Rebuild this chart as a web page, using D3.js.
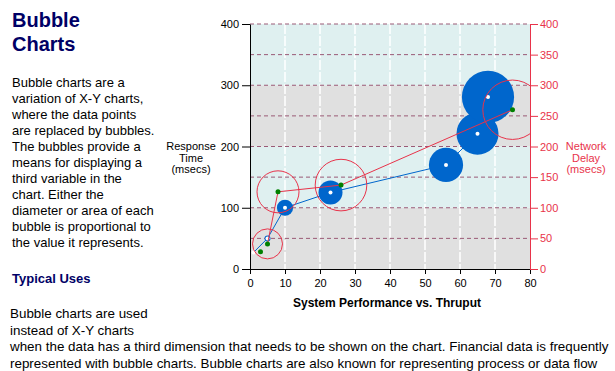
<html>
<head>
<script src="https://cdn.jsdelivr.net/npm/d3@7"></script>
<style>
  body { margin: 0; background: #fff; }
  text { font-family: "Liberation Sans", Arial, sans-serif; }
</style>
</head>
<body>
<script>
var w = 615;
var h = 371;

// chart values
var xTicks = [0, 10, 20, 30, 40, 50, 60, 70, 80];
var leftTicks = [0, 100, 200, 300, 400];
var rightTicks = [0, 50, 100, 150, 200, 250, 300, 350, 400];
var bands = [0, 100, 200, 300];

var blueX = [1, 5, 10, 23, 56, 65, 68];
var blueY = [27, 50, 100, 125, 170, 221, 281];
var blueSize = [0, 10, 27, 40, 57, 70, 87];

var redX = [3, 5, 8, 26, 75];
var redY = [28, 41, 126, 137, 260];
var redSize = [0, 50, 70, 86, 99];

var introLines = ["Bubble charts are a", "variation of X-Y charts,", "where the data points",
  "are replaced by bubbles.", "The bubbles provide a", "means for displaying a",
  "third variable in the", "chart. Either the", "diameter or area of each",
  "bubble is proportional to", "the value it represents."];
var usesLines = ["Bubble charts are used", "instead of X-Y charts",
  "when the data has a third dimension that needs to be shown on the chart. Financial data is frequently",
  "represented with bubble charts. Bubble charts are also known for representing process or data flow"];

var svg = d3.select("body").append("svg")
  .attr("width", w)
  .attr("height", h);

// left column text
svg.append("text").attr("x", 12).attr("y", 27).attr("fill", "#000066")
  .style("font-size", "20px").style("font-weight", "bold").text("Bubble");
svg.append("text").attr("x", 12).attr("y", 51).attr("fill", "#000066")
  .style("font-size", "20px").style("font-weight", "bold").text("Charts");

svg.selectAll(".intro").data(introLines).enter().append("text")
  .attr("class", "intro")
  .attr("x", 12)
  .attr("y", function(d, i) { return 87 + i * 16; })
  .style("font-size", "13px")
  .text(function(d) { return d; });

svg.append("text").attr("x", 12).attr("y", 283).attr("fill", "#000066")
  .style("font-size", "13px").style("font-weight", "bold").text("Typical Uses");

svg.selectAll(".uses").data(usesLines).enter().append("text")
  .attr("class", "uses")
  .attr("x", 10)
  .attr("y", function(d, i) { return 318 + i * 16.5; })
  .style("font-size", "13.4px")
  .text(function(d) { return d; });

// chart
var x = d3.scaleLinear().domain([0, 80]).range([250, 530]);
var y = d3.scaleLinear().domain([0, 400]).range([269, 24]);
var y2 = d3.scaleLinear().domain([0, 400]).range([269, 24]);
var r = d3.scaleLinear().domain([0, 100]).range([0, 30]);

svg.append("clipPath").attr("id", "plotclip").append("rect")
  .attr("x", 250).attr("y", 24).attr("width", 280).attr("height", 245);

svg.selectAll(".band").data(bands).enter().append("rect")
  .attr("x", x(0))
  .attr("y", function(d) { return y(d + 100); })
  .attr("width", x(80) - x(0))
  .attr("height", function(d) { return y(d) - y(d + 100); })
  .attr("fill", function(d, i) { return i % 2 == 0 ? "#e0e0e0" : "#dff0f0"; });

svg.selectAll(".vgrid").data(xTicks.slice(1, -1)).enter().append("line")
  .attr("x1", function(d) { return x(d); })
  .attr("x2", function(d) { return x(d); })
  .attr("y1", y(400)).attr("y2", y(0))
  .attr("stroke", "#fff").attr("stroke-width", 1.5)
  .attr("stroke-dasharray", "10,2");

svg.selectAll(".hgrid").data(rightTicks.slice(1)).enter().append("line")
  .attr("x1", x(0)).attr("x2", x(80))
  .attr("y1", function(d) { return y2(d); })
  .attr("y2", function(d) { return y2(d); })
  .attr("stroke", "#9a5a76")
  .attr("stroke-dasharray", "4,3");

var blue = blueX.map(function(v, i) { return { x: v, y: blueY[i], s: blueSize[i] }; });
var red = redX.map(function(v, i) { return { x: v, y: redY[i], s: redSize[i] }; });

var plot = svg.append("g").attr("clip-path", "url(#plotclip)");

var blueLine = d3.line().x(function(d) { return x(d.x); }).y(function(d) { return y(d.y); });
plot.append("path").datum(blue).attr("d", blueLine)
  .attr("fill", "none").attr("stroke", "#0066cc").attr("stroke-width", 1);

plot.selectAll(".bubble").data(blue).enter().append("circle")
  .attr("cx", function(d) { return x(d.x); })
  .attr("cy", function(d) { return y(d.y); })
  .attr("r", function(d) { return r(d.s); })
  .attr("fill", "#0066cc");

plot.selectAll(".bdot").data(blue).enter().append("circle")
  .attr("cx", function(d) { return x(d.x); })
  .attr("cy", function(d) { return y(d.y); })
  .attr("r", 2)
  .attr("fill", "#fff");

// red series is on the right axis; its line starts at the second point
var redLine = d3.line().x(function(d) { return x(d.x); }).y(function(d) { return y2(d.y); });
plot.append("path").datum(red.slice(1)).attr("d", redLine)
  .attr("fill", "none").attr("stroke", "#e8334a").attr("stroke-width", 1);

plot.selectAll(".ring").data(red).enter().append("circle")
  .attr("cx", function(d) { return x(d.x); })
  .attr("cy", function(d) { return y2(d.y); })
  .attr("r", function(d) { return r(d.s); })
  .attr("fill", "none")
  .attr("stroke", "#e8334a");

plot.selectAll(".gdot").data(red).enter().append("circle")
  .attr("cx", function(d) { return x(d.x); })
  .attr("cy", function(d) { return y2(d.y); })
  .attr("r", 2.5)
  .attr("fill", "#008000");

// axes
var xAxis = svg.append("g")
  .attr("transform", "translate(0," + y(0) + ")")
  .call(d3.axisBottom(x).tickValues(xTicks).tickSize(5).tickSizeOuter(0).tickPadding(5));

var yAxis = svg.append("g")
  .attr("transform", "translate(" + x(0) + ",0)")
  .call(d3.axisLeft(y).tickValues(leftTicks).tickSize(8).tickSizeOuter(0).tickPadding(3));

var yAxis2 = svg.append("g")
  .attr("transform", "translate(" + x(80) + ",0)")
  .call(d3.axisRight(y2).tickValues(rightTicks).tickSize(8).tickSizeOuter(0).tickPadding(2));

svg.selectAll(".tick text").style("font-size", "11px").style("font-family", "'Liberation Sans', Arial, sans-serif");
yAxis2.selectAll("line, path").attr("stroke", "#e8334a");
yAxis2.selectAll("text").attr("fill", "#e8334a");

// axis titles
var leftTitle = ["Response", "Time", "(msecs)"];
svg.selectAll(".ltitle").data(leftTitle).enter().append("text")
  .attr("x", 191)
  .attr("y", function(d, i) { return 150 + i * 11.5; })
  .attr("text-anchor", "middle")
  .style("font-size", "11px")
  .text(function(d) { return d; });

var rightTitle = ["Network", "Delay", "(msecs)"];
svg.selectAll(".rtitle").data(rightTitle).enter().append("text")
  .attr("x", 586)
  .attr("y", function(d, i) { return 150 + i * 11.5; })
  .attr("text-anchor", "middle")
  .attr("fill", "#e8334a")
  .style("font-size", "11px")
  .text(function(d) { return d; });

svg.append("text")
  .attr("x", 387).attr("y", 307)
  .attr("text-anchor", "middle")
  .style("font-size", "12px").style("font-weight", "bold")
  .text("System Performance vs. Thruput");
</script>
</body>
</html>
